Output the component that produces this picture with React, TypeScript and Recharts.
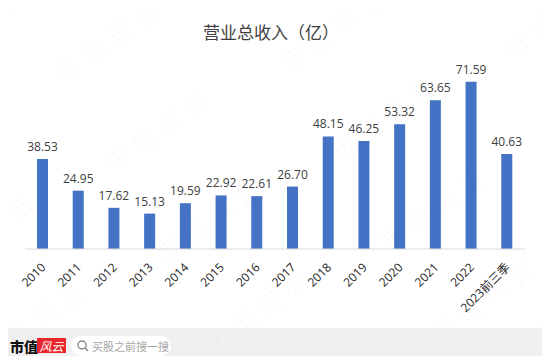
import { BarChart, Bar, XAxis, YAxis, LabelList } from 'recharts';

const years = ['2010', '2011', '2012', '2013', '2014', '2015', '2016', '2017', '2018', '2019', '2020', '2021', '2022', '2023前三季'];
const revenue = [38.53, 24.95, 17.62, 15.13, 19.59, 22.92, 22.61, 26.7, 48.15, 46.25, 53.32, 63.65, 71.59, 40.63];

const data = years.map((year, i) => ({ year, revenue: revenue[i] }));

const FONT = '"Open Sans", "Noto Sans CJK SC", sans-serif';

const YearTick = ({ x, y, payload }: any) => (
  <g transform={`translate(${x},${y})`}>
    <text
      x={-11}
      y={16}
      transform="rotate(-45)"
      textAnchor="end"
      fontSize={12}
      fill="#262626"
      fontFamily={FONT}
    >
      {payload.value}
    </text>
  </g>
);

// faint tiled watermark
const marks: { x: number; y: number }[] = [];
for (let i = -2; i <= 3; i++) {
  for (let j = -1; j <= 5; j++) {
    const x = 112 + i * 225 + j * 50;
    const y = 42 - i * 12 + j * 90;
    if (x > -20 && x < 570 && y > -20 && y < 380) marks.push({ x, y });
  }
}

export default function App() {
  return (
    <div style={{ position: 'relative', width: 550, height: 364, margin: -8, background: '#fff', overflow: 'hidden' }}>
      <div style={{ position: 'absolute', left: 0, top: 0, width: 550, height: 363, background: '#f0f0f0', borderRadius: 8 }} />
      <div style={{ position: 'absolute', left: 8, top: 8, width: 534, height: 320, background: '#fff', borderRadius: 3 }}>
        <div
          style={{
            position: 'absolute', left: 0, width: 526, top: 12, textAlign: 'center',
            fontSize: 17, color: '#404040', fontFamily: '"Noto Sans CJK SC", sans-serif', lineHeight: '24px',
          }}
        >
          营业总收入（亿）
        </div>
        <BarChart
          width={534}
          height={320}
          data={data}
          margin={{ top: 54, right: 17, left: 17, bottom: 9 }}
          style={{ position: 'absolute', left: 0, top: 0 }}
        >
          <XAxis
            dataKey="year"
            interval={0}
            height={70}
            tickLine={false}
            tickSize={0}
            tickMargin={0}
            axisLine={{ stroke: '#d9d9d9', strokeWidth: 1 }}
            tick={<YearTick />}
          />
          <YAxis hide domain={[0, 80]} />
          <Bar dataKey="revenue" fill="#4472C4" barSize={11} isAnimationActive={false}>
            <LabelList
              dataKey="revenue"
              position="top"
              offset={8}
              fontSize={12}
              fill="#404040"
              fontFamily={FONT}
              formatter={(v: any) => Number(v).toFixed(2)}
            />
          </Bar>
        </BarChart>
      </div>
      <div style={{ position: 'absolute', left: 10, top: 336, height: 20, lineHeight: '20px', fontSize: 14, fontWeight: 900, color: '#111', fontFamily: '"Noto Sans CJK SC", serif' }}>
        市值
      </div>
      <div
        style={{
          position: 'absolute', left: 37, top: 338, width: 29, height: 15, background: '#e8262b',
          color: '#fff', fontSize: 12, lineHeight: '15px', textAlign: 'center', fontStyle: 'italic',
          fontFamily: '"Noto Sans CJK SC", sans-serif',
        }}
      >
        风云
      </div>
      <div
        style={{
          position: 'absolute', left: 71, top: 336, width: 100, height: 20, background: '#fff', borderRadius: 10,
          fontSize: 11, lineHeight: '20px', color: '#a6a6a6', fontFamily: '"Noto Sans CJK SC", sans-serif',
        }}
      >
        <svg width={12} height={12} style={{ position: 'absolute', left: 6, top: 4 }}>
          <circle cx={5} cy={5} r={4} fill="none" stroke="#888" strokeWidth={1.4} />
          <line x1={8} y1={8} x2={11} y2={11} stroke="#888" strokeWidth={1.6} />
        </svg>
        <span style={{ position: 'absolute', left: 21 }}>买股之前搜一搜</span>
      </div>
      <svg width={550} height={364} style={{ position: 'absolute', left: 0, top: 0, pointerEvents: 'none' }}>
        {marks.map((m, i) => (
          <text
            key={i}
            x={m.x}
            y={m.y}
            transform={`rotate(-35, ${m.x}, ${m.y})`}
            textAnchor="middle"
            dominantBaseline="middle"
            fontSize={24}
            fontWeight={300}
            letterSpacing={8}
            fill="#000"
            fillOpacity={0.035}
            fontFamily='"Noto Sans CJK SC", sans-serif'
          >
            市值风云
          </text>
        ))}
      </svg>
    </div>
  );
}
